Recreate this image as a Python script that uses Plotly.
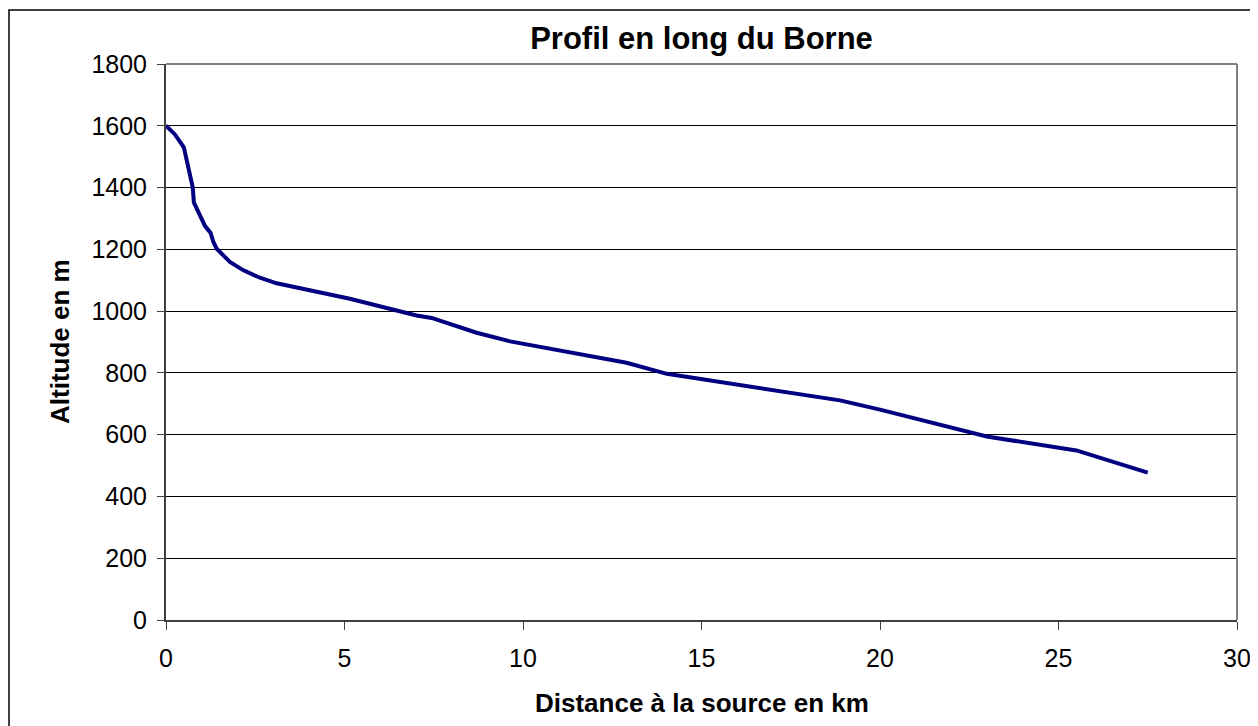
import plotly.graph_objects as go

distance_km = [0, 0.25, 0.5, 0.75, 0.78, 1.09, 1.25, 1.33, 1.42, 1.79, 2.17, 2.63, 3.10,
               3.75, 5.15, 6.46, 7.02, 7.44, 8.70, 9.64, 11.22, 11.97, 12.53, 12.9,
               14.03, 14.96, 16.26, 18.88, 20.0, 21.49, 21.87, 22.24, 22.99, 25.5,
               26.35, 27.5]
altitude_m = [1600, 1572, 1530, 1400, 1352, 1276, 1253, 1223, 1202, 1159, 1132, 1108, 1090,
              1074, 1040, 1002, 986, 978, 930, 902, 868, 852, 840, 833,
              797, 780, 759, 711, 681, 638, 629, 616, 594, 549,
              517, 477]

x_ticks = [0, 5, 10, 15, 20, 25, 30]
y_ticks = [0, 200, 400, 600, 800, 1000, 1200, 1400, 1600, 1800]

title_text = "Profil en long du Borne"
x_title = "Distance à la source en km"
y_title = "Altitude en m"

# page body has an 8px margin, so the figure is drawn from (8, 8)
W, H = 1250, 718
L, R, T, B = 158, 21, 56, 106
pw, ph = W - L - R, H - T - B

fig = go.Figure()
fig.add_trace(go.Scatter(x=distance_km, y=altitude_m, mode="lines",
                         line=dict(color="#000080", width=4), hoverinfo="x+y",
                         showlegend=False))

font = "Arial, Liberation Sans, sans-serif"
fig.update_layout(
    width=W, height=H,
    margin=dict(l=L, r=R, t=T, b=B, autoexpand=False),
    paper_bgcolor="white", plot_bgcolor="white",
    title=dict(text="<b>%s</b>" % title_text, x=(L + pw / 2) / W, xanchor="center",
               y=1 - 30 / H, yanchor="middle", yref="container",
               font=dict(family=font, size=31, color="black")),
    xaxis=dict(range=[0, 30], tickvals=x_ticks, ticks="outside", ticklen=8, tickwidth=1,
               tickcolor="#404040", showline=True, linecolor="#404040", linewidth=2,
               ticklabelstandoff=7,
               showgrid=False, zeroline=False, tickfont=dict(family=font, size=25, color="black")),
    yaxis=dict(range=[0, 1800], tickvals=y_ticks, ticks="outside", ticklen=7, tickwidth=1,
               tickcolor="#404040", showline=True, linecolor="#404040", linewidth=2,
               ticklabelstandoff=5,
               showgrid=True, gridcolor="black", gridwidth=1, zeroline=False,
               tickfont=dict(family=font, size=25, color="black")),
    annotations=[
        dict(text="<b>%s</b>" % x_title, xref="paper", yref="paper", x=0.5,
             y=-(695 - T - ph) / ph, xanchor="center", yanchor="middle", showarrow=False,
             font=dict(family=font, size=26, color="black")),
        dict(text="<b>%s</b>" % y_title, xref="paper", yref="paper", x=(52 - L) / pw,
             y=0.5, xanchor="center", yanchor="middle", showarrow=False, textangle=-90,
             font=dict(family=font, size=26, color="black")),
    ],
    shapes=[
        dict(type="line", xref="paper", yref="paper", x0=0, x1=1, y0=1, y1=1,
             line=dict(color="#808080", width=2)),
        dict(type="line", xref="paper", yref="paper", x0=1, x1=1, y0=0, y1=1,
             line=dict(color="#808080", width=2)),
        dict(type="rect", xref="paper", yref="paper", x0=(1 - L) / pw, x1=(W + 20 - L) / pw,
             y0=-(H + 20 - T - ph) / ph, y1=(T + ph - 2) / ph,
             line=dict(color="black", width=1.5), fillcolor="rgba(0,0,0,0)"),
    ],
)

fig.write_html("out.html")
